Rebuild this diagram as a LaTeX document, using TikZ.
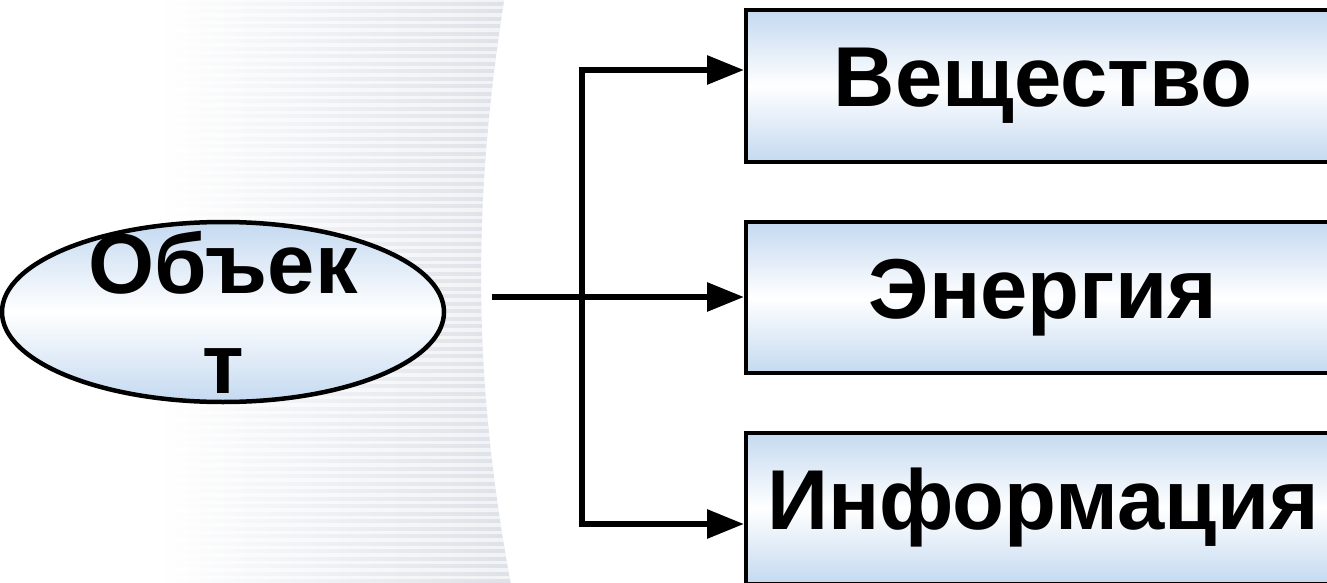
\documentclass[tikz,border=0pt]{standalone}
\usepackage{fontspec}
\setmainfont{Liberation Sans}
\usetikzlibrary{arrows.meta,shapes.geometric}
\definecolor{boxblue}{RGB}{196,217,240}
\definecolor{bandgrey}{RGB}{221,224,231}
\tikzset{
  boxnode/.style={draw=black, line width=4pt, rectangle, inner sep=0pt,
    minimum width=594pt, minimum height=151pt,
    top color=boxblue, bottom color=boxblue, middle color=white,
    font=\fontsize{85}{100}\selectfont\bfseries},
  objell/.style={draw=black, line width=4.5pt, ellipse, inner sep=0pt,
    minimum width=442pt, minimum height=180pt,
    top color=boxblue, bottom color=boxblue, middle color=white},
  objtext/.style={inner sep=0pt, align=center, font=\fontsize{85}{100}\selectfont\bfseries},
  conn/.style={line width=6pt, line join=miter, draw=black},
  tip/.tip={Triangle[length=37pt,width=28pt]}
}
\begin{document}
\begin{tikzpicture}[x=1pt,y=-1pt]
\useasboundingbox (0,0) rectangle (1327,583);
\fill[white] (0,0) rectangle (1327,583);
% faded striped background band
\begin{scope}
  \clip (160,-5) -- (505,-5) .. controls (472,200) and (472,380) .. (512,590) -- (160,590) -- cycle;
  \shade[left color=white, right color=bandgrey] (160,-5) rectangle (515,590);
  \foreach \yy in {0,7.5,...,590} {
    \shade[left color=white, right color=white, middle color=white, opacity=0.6] (160,\yy-1.1) rectangle (515,\yy+1.1);
  }
\end{scope}

% nodes
\node[objell] (obj) at (223,312) {};
\node[objtext] (objtxt) at (obj.center) {Объек\\т};
\node[boxnode] (b1) at (1043,86) {Вещество};
\node[boxnode] (b2) at (1043,297.5) {Энергия};
\node[boxnode] (b3) at (1043,508) {Информация};

% connectors
\coordinate (hstart) at (492,297);
\coordinate (vtop) at (582,70);
\coordinate (vbot) at (582,524);
\draw[conn, -{tip}] (hstart) -- (hstart -| b2.west);
\draw[conn, {tip}-{tip}] (vtop -| b1.west) -- (vtop) -- (vbot) -- (vbot -| b3.west);
\end{tikzpicture}
\end{document}
